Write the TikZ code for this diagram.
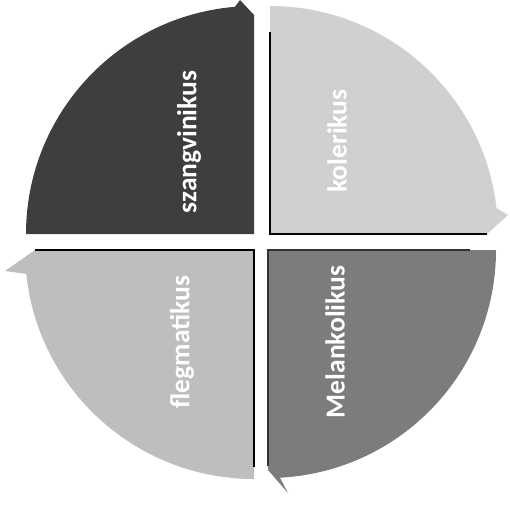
\documentclass[tikz,border=0pt]{standalone}
\usepackage{fontspec}
\setmainfont{Carlito}
\definecolor{qdark}{HTML}{3E3E3E}
\definecolor{qlight}{HTML}{D0D0D0}
\definecolor{qmid}{HTML}{7C7C7C}
\definecolor{qsoft}{HTML}{BEBEBE}
\begin{document}
\begin{tikzpicture}[x=1pt,y=-1pt,
  lbl/.style={text=white,font=\fontsize{27.5}{30}\selectfont\bfseries,rotate=90,inner sep=0pt},
  edge/.style={black,line width=1.8pt},
  softedge/.style={black!80,line width=1.2pt}]
\useasboundingbox (0,0) rectangle (510,504);
% top-left (szangvinikus)
\coordinate (c1) at (254,234);
\fill[qdark] (c1) -- (26,234) arc[start angle=180,end angle=265.2,radius=228] -- (240,0) -- (254,15) -- cycle;
% top-right (kolerikus)
\coordinate (c2) at (270,234);
\fill[qlight] (c2) -- (270,6) arc[start angle=270,end angle=353.5,radius=228] -- (508,215) -- (487,234) -- cycle;
\coordinate (c2a) at (270,32);
\coordinate (c2b) at (487,234);
\draw[edge] (c2a) -- (c2) -- (c2b);
% bottom-right (Melankolikus)
\coordinate (c3) at (268,250);
\fill[qmid] (c3) -- (496,250) arc[start angle=0,end angle=87,radius=228] -- (288,493) -- (268,470) -- cycle;
\coordinate (c3a) at (268,466);
\coordinate (c3b) at (470,250);
\draw[softedge] (c3a) -- (c3) -- (c3b);
% bottom-left (flegmatikus)
\coordinate (c4) at (254,250);
\fill[qsoft] (c4) -- (254,479) arc[start angle=90,end angle=174,radius=229] -- (5,271) -- (35,250) -- cycle;
\coordinate (c4a) at (35,250);
\coordinate (c4b) at (254,467);
\draw[edge] (c4a) -- (c4) -- (c4b);
% labels
\node[lbl] (t1) at (189,142) {szangvinikus};
\node[lbl] (t2) at (337,141) {kolerikus};
\node[lbl] (t3) at (335,342) {Melankolikus};
\node[lbl] (t4) at (182,342) {flegmatikus};
\end{tikzpicture}
\end{document}
